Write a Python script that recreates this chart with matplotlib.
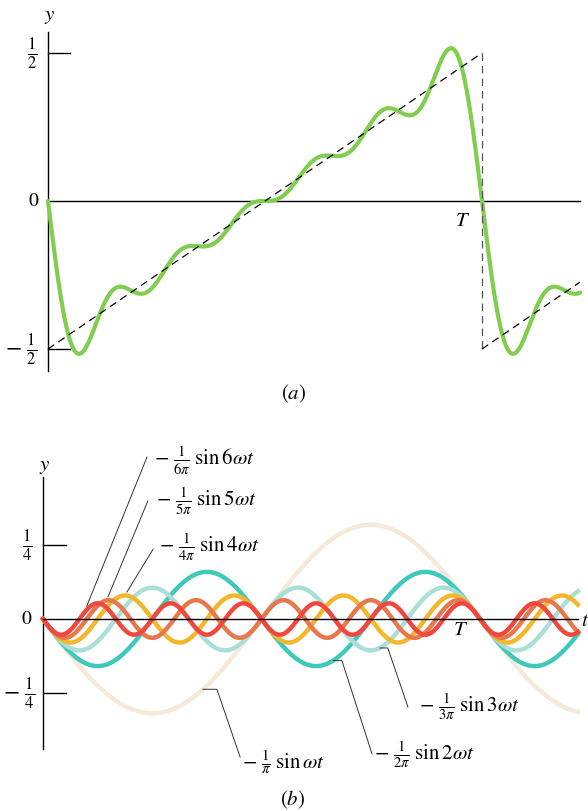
import numpy as np
import matplotlib
matplotlib.use("Agg")
import matplotlib.pyplot as plt

plt.rcParams['mathtext.fontset'] = 'stix'
plt.rcParams['font.family'] = ['Liberation Serif', 'DejaVu Serif']

# ---- data ----
harmonics = [1, 2, 3, 4, 5, 6]
amplitudes = [-1.0 / (n * np.pi) for n in harmonics]   # coefficients -1/(n*pi)
colors = ['#f5e9d8', '#3fc9bb', '#aadfd9', '#f4b62a', '#e6784c', '#f2473f']
labels = [r'$-\ \frac{1}{\pi}\;\sin\omega t$',
          r'$-\ \frac{1}{2\pi}\;\sin 2\omega t$',
          r'$-\ \frac{1}{3\pi}\;\sin 3\omega t$',
          r'$-\ \frac{1}{4\pi}\;\sin 4\omega t$',
          r'$-\ \frac{1}{5\pi}\;\sin 5\omega t$',
          r'$-\ \frac{1}{6\pi}\;\sin 6\omega t$']
saw_t = [0.0, 1.0, 1.0, 1.226]
saw_y = [-0.5, 0.5, -0.5, -0.274]

def component(k, t):
    return amplitudes[k] * np.sin(2 * np.pi * harmonics[k] * t)

W, H = 588, 812
fig = plt.figure(figsize=(W / 100, H / 100), dpi=100)

# ---------------- panel (a) ----------------
axa = fig.add_axes([0, 0.5, 1, 0.5])
axa.set_xlim(-48 / 434, 540 / 434)
axa.set_ylim(-(406 - 202) / 296, 202 / 296)
axa.axis('off')

ta = np.linspace(0, 1.226, 2000)
ya = sum(component(k, ta) for k in range(len(harmonics)))
axa.plot([0, 0], [-0.574, 0.571], color='black', lw=1.0)
axa.plot([0, 1.226], [0, 0], color='black', lw=1.0)
axa.plot([0, 0.05], [0.5, 0.5], color='black', lw=1.0)
axa.plot([0, 0.05], [-0.5, -0.5], color='black', lw=1.0)
axa.plot(ta, ya, color='#80cd50', lw=3.0, solid_capstyle='round', zorder=3)
axa.plot(saw_t[:2], saw_y[:2], color='black', lw=0.9, dashes=(6, 4), zorder=4)
axa.plot(saw_t[1:3], saw_y[1:3], color='#555555', lw=0.9, dashes=(6, 4), zorder=4)
axa.plot(saw_t[2:], saw_y[2:], color='black', lw=0.9, dashes=(6, 4), zorder=4)

axa.text(-0.037, 0.5, r'$\frac{1}{2}$', fontsize=17, ha='center', va='center')
axa.text(-0.032, 0.0, r'$0$', fontsize=14, ha='center', va='center')
axa.text(-0.025, -0.5, r'$-\ \frac{1}{2}$', fontsize=17, ha='right', va='center')
axa.text(0.005, 0.625, r'$y$', fontsize=15, ha='center', va='center')
axa.text(0.956, -0.065, r'$T$', fontsize=15, ha='center', va='center')
axa.text(0.565, -0.648, r'$(a)$', fontsize=15, ha='center', va='center')

# ---------------- panel (b) ----------------
axb = fig.add_axes([0, 0, 1, 0.5])
axb.set_xlim(-43 / 437, 545 / 437)
axb.set_ylim(-(812 - 620) / 296, (620 - 406) / 296)
axb.axis('off')

tb = np.linspace(0, 1.224, 2000)
axb.plot([0, 0], [-0.439, 0.480], color='black', lw=1.0)
axb.plot([0, 1.224], [0, 0], color='black', lw=1.0, zorder=10)
axb.plot([0, 0.053], [0.25, 0.25], color='black', lw=1.0)
axb.plot([0, 0.053], [-0.25, -0.25], color='black', lw=1.0)

order = [0, 2, 1, 3, 4, 5]
for k in order:
    axb.plot(tb, component(k, tb), color=colors[k], lw=3.2, zorder=2 + k)

# leader lines: point on curve, optional elbow, end near text
leaders = {
    5: dict(t=0.100, pts=[(0.238, 0.547)], txt=(0.254, 0.536)),
    4: dict(t=0.149, pts=[(0.240, 0.399)], txt=(0.259, 0.401)),
    3: dict(t=0.192, pts=[(0.252, 0.236)], txt=(0.266, 0.245)),
    0: dict(t=0.366, pts=[(0.398, None), (0.451, -0.466)], txt=(0.456, -0.481)),
    1: dict(t=0.664, pts=[(0.684, None), (0.753, -0.456)], txt=(0.758, -0.454)),
    2: dict(t=0.771, pts=[(0.789, None), (0.835, -0.297)], txt=(0.861, -0.292)),
}
for k, d in leaders.items():
    y0 = float(component(k, np.array(d['t'])))
    if k in (3, 4, 5):
        y0 += 0.012
    xs = [d['t']]
    ys = [y0]
    for (px, py) in d['pts']:
        xs.append(px)
        ys.append(y0 if py is None else py)
    axb.plot(xs, ys, color='#333333', lw=0.7, zorder=20)
    axb.text(d['txt'][0], d['txt'][1], labels[k], fontsize=15,
             ha='left', va='center', zorder=21)

axb.text(-0.037, 0.25, r'$\frac{1}{4}$', fontsize=17, ha='center', va='center')
axb.text(-0.037, 0.0, r'$0$', fontsize=14, ha='center', va='center')
axb.text(-0.018, -0.25, r'$-\ \frac{1}{4}$', fontsize=17, ha='right', va='center')
axb.text(0.005, 0.52, r'$y$', fontsize=15, ha='center', va='center')
axb.text(0.955, -0.035, r'$T$', fontsize=15, ha='center', va='center')
axb.text(1.23, -0.005, r'$t$', fontsize=15, ha='left', va='center')
axb.text(0.572, -0.608, r'$(b)$', fontsize=15, ha='center', va='center')

fig.savefig('out.png', dpi=100, facecolor='white')
